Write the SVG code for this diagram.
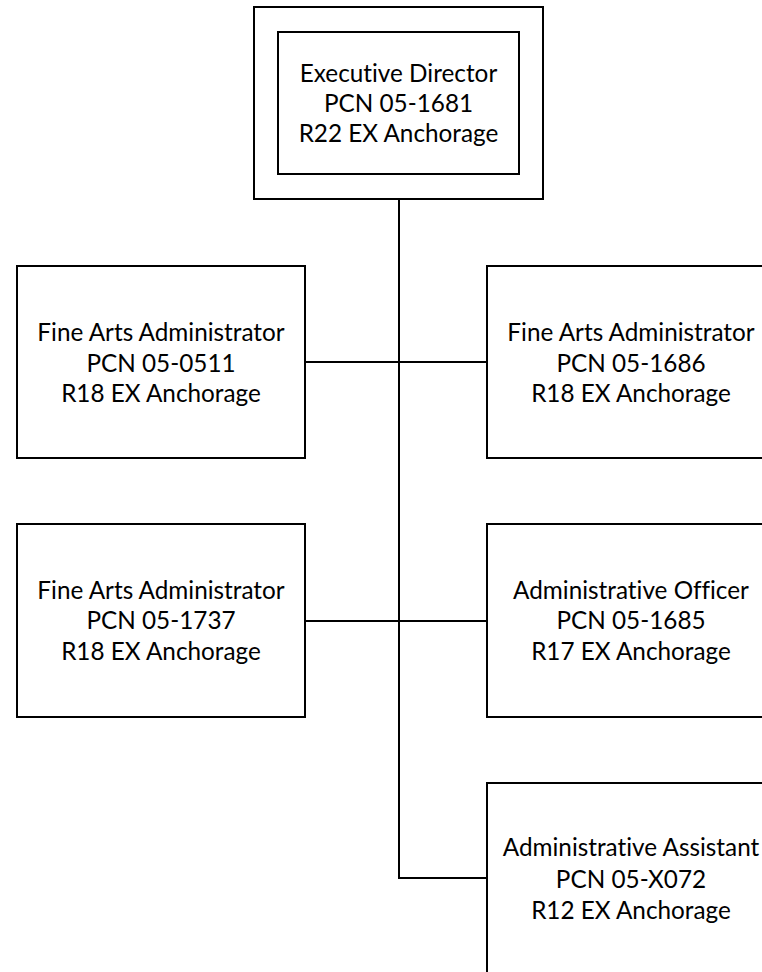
<svg xmlns="http://www.w3.org/2000/svg" width="762" height="972" viewBox="0 0 762 972">
<style>
.box{fill:#fff;stroke:#000;stroke-width:2}
.t{font-family:Lato,"Open Sans",sans-serif;font-size:24.3px;fill:#000;text-anchor:middle;font-variant-ligatures:none}
.c{fill:none;stroke:#000;stroke-width:2}
</style>
<rect width="762" height="972" fill="#fff"/>
<g id="connectors">
<path class="c" d="M399 199 V878 H487"/>
<path class="c" d="M305 362 H487"/>
<path class="c" d="M305 621 H487"/>
</g>
<g id="exec">
<rect class="box" x="254" y="7" width="289" height="192"/>
<rect class="box" x="278" y="32" width="241" height="142"/>
<text class="t" x="398.5" y="82">Executive Director</text>
<text class="t" x="398.5" y="112">PCN 05-1681</text>
<text class="t" x="398.5" y="142">R22 EX Anchorage</text>
</g>
<g id="fa0511">
<rect class="box" x="17" y="266" width="288" height="192"/>
<text class="t" x="161" y="341">Fine Arts Administrator</text>
<text class="t" x="161" y="372">PCN 05-0511</text>
<text class="t" x="161" y="402">R18 EX Anchorage</text>
</g>
<g id="fa1686">
<rect class="box" x="487" y="266" width="288" height="192"/>
<text class="t" x="631" y="341">Fine Arts Administrator</text>
<text class="t" x="631" y="372">PCN 05-1686</text>
<text class="t" x="631" y="402">R18 EX Anchorage</text>
</g>
<g id="fa1737">
<rect class="box" x="17" y="524" width="288" height="193"/>
<text class="t" x="161" y="599">Fine Arts Administrator</text>
<text class="t" x="161" y="629">PCN 05-1737</text>
<text class="t" x="161" y="660">R18 EX Anchorage</text>
</g>
<g id="ao1685">
<rect class="box" x="487" y="524" width="288" height="193"/>
<text class="t" x="631" y="599">Administrative Officer</text>
<text class="t" x="631" y="629">PCN 05-1685</text>
<text class="t" x="631" y="660">R17 EX Anchorage</text>
</g>
<g id="aaX072">
<rect class="box" x="487" y="783" width="288" height="200"/>
<text class="t" x="631" y="856">Administrative Assistant</text>
<text class="t" x="631" y="888">PCN 05-X072</text>
<text class="t" x="631" y="919">R12 EX Anchorage</text>
</g>
</svg>
